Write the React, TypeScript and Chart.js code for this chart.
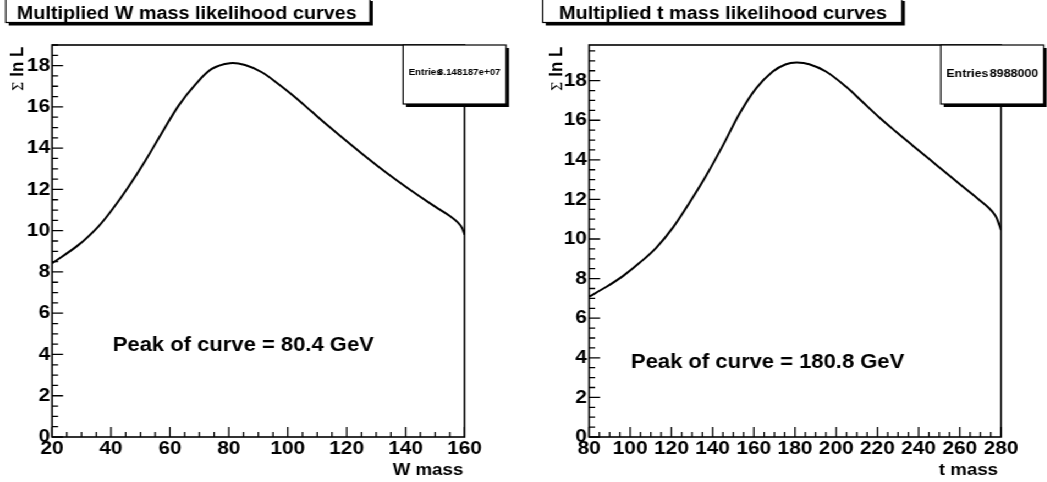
import React, { useEffect, useRef } from "react";
import { Chart, registerables } from "chart.js";

Chart.register(...registerables);

// ---------- data ----------
const wMass = [20, 28.9, 35.7, 40.3, 45.9, 51.6, 57.2, 62.9, 68.6, 74.2, 80.4, 85.5, 91.2, 96.8, 102.5, 108.2, 113.8, 119.5, 125.1, 130.8, 136.5, 142.1, 147.8, 151.5, 154.9, 157.7, 159.2, 160];
const wLnL = [8.42, 9.3, 10.2, 11.0, 12.12, 13.38, 14.72, 16.05, 17.08, 17.84, 18.12, 18.03, 17.68, 17.11, 16.47, 15.76, 15.07, 14.39, 13.74, 13.1, 12.49, 11.92, 11.37, 11.03, 10.72, 10.4, 10.12, 9.8];

const tMass = [80, 88.5, 96.6, 104.7, 112.7, 120.8, 128.9, 136.9, 145.0, 153.1, 161.1, 169.2, 175.6, 180.8, 186.9, 195.0, 204.7, 212.7, 220.8, 228.9, 236.9, 245.0, 253.1, 261.1, 269.2, 274.0, 277.3, 279.2, 280];
const tLnL = [7.09, 7.59, 8.14, 8.81, 9.57, 10.59, 11.86, 13.21, 14.73, 16.34, 17.61, 18.46, 18.83, 18.91, 18.83, 18.46, 17.7, 16.93, 16.15, 15.43, 14.74, 14.05, 13.36, 12.68, 12.0, 11.58, 11.18, 10.7, 10.45];

const wXTicks = [20, 40, 60, 80, 100, 120, 140, 160];
const tXTicks = [80, 100, 120, 140, 160, 180, 200, 220, 240, 260, 280];
const yTicks = [0, 2, 4, 6, 8, 10, 12, 14, 16, 18];

// ---------- layout ----------
const SX = 1.1; // horizontal stretch of the picture
const PANEL_W = 476;
const H = 482;
const FONT = '"Liberation Sans", Arial, Helvetica, sans-serif';

interface PanelCfg {
  xs: number[];
  ys: number[];
  xTicks: number[];
  xMin: number;
  xMax: number;
  yMax: number;
  title: string;
  xTitle: string;
  entries: string;
  peak: string;
  padL: number;
  padR: number;
  titleBoxX: number;
  titleTextX: number;
  titlePadR: number;
  statsX0: number;
  statsFont: number;
  statsBase: number;
  yLabX: number;
  peakX: number;
  peakY: number;
  xTitleRight: number;
}

const leftCfg: PanelCfg = {
  xs: wMass,
  ys: wLnL,
  xTicks: wXTicks,
  xMin: 20,
  xMax: 160,
  yMax: 19,
  title: "Multiplied W mass likelihood curves",
  xTitle: "W mass",
  entries: "8.148187e+07",
  peak: "Peak of curve = 80.4 GeV",
  padL: 7.3,
  padR: 53.7,
  titleBoxX: 5.2,
  titleTextX: 15.2,
  titlePadR: 12,
  statsX0: 366.4,
  statsFont: 8.9,
  statsBase: 75,
  yLabX: 21,
  peakX: 102.5,
  peakY: 351,
  xTitleRight: 421.2,
};

const rightCfg: PanelCfg = {
  xs: tMass,
  ys: tLnL,
  xTicks: tXTicks,
  xMin: 80,
  xMax: 280,
  yMax: 19.8,
  title: "Multiplied t mass likelihood curves",
  xTitle: "t mass",
  entries: "8988000",
  peak: "Peak of curve = 180.8 GeV",
  padL: 19.45,
  padR: 42,
  titleBoxX: 17.4,
  titleTextX: 32.2,
  titlePadR: 13.6,
  statsX0: 379.2,
  statsFont: 11.3,
  statsBase: 77,
  yLabX: 35,
  peakX: 97.6,
  peakY: 368,
  xTitleRight: 431.3,
};

function boxWithShadow(ctx: CanvasRenderingContext2D, x0: number, y0: number, x1: number, y1: number) {
  ctx.fillStyle = "#000";
  ctx.fillRect(x0 + 2.7, y0 + 3, x1 - x0, y1 - y0);
  ctx.fillStyle = "#fff";
  ctx.fillRect(x0, y0, x1 - x0, y1 - y0);
  ctx.lineWidth = 1.2;
  ctx.strokeStyle = "#000";
  ctx.strokeRect(x0, y0, x1 - x0, y1 - y0);
}

const rootPlugin = {
  id: "rootDecor",
  afterDraw(chart: any, _args: any, o: any) {
    const ctx = chart.ctx as CanvasRenderingContext2D;
    const a = chart.chartArea;
    const xs = chart.scales.x;
    const ys = chart.scales.y;
    ctx.save();
    ctx.strokeStyle = "#000";
    ctx.fillStyle = "#000";

    // tick marks inside the frame
    ctx.lineWidth = 1.3;
    ctx.beginPath();
    const xt: number[] = xs.ticks.map((t: any) => t.value);
    const xStep = xt[1] - xt[0];
    for (let v = xs.min; v <= xs.max + 1e-6; v += xStep / 4) {
      const px = xs.getPixelForValue(v);
      const major = xt.some((t) => Math.abs(t - v) < 1e-6);
      ctx.moveTo(px, a.bottom);
      ctx.lineTo(px, a.bottom - (major ? 10 : 5));
    }
    const yt: number[] = ys.ticks.map((t: any) => t.value);
    const yStep = yt[1] - yt[0];
    for (let v = ys.min; v <= ys.max + 1e-6; v += yStep / 4) {
      const py = ys.getPixelForValue(v);
      const major = yt.some((t) => Math.abs(t - v) < 1e-6);
      ctx.moveTo(a.left, py);
      ctx.lineTo(a.left + (major ? 10 : 5.5), py);
    }
    ctx.stroke();

    // frame
    ctx.lineWidth = 1.6;
    ctx.strokeRect(a.left, a.top, a.right - a.left, a.bottom - a.top);

    // title box
    ctx.font = `bold 18px ${FONT}`;
    const tw = ctx.measureText(o.title).width;
    boxWithShadow(ctx, o.titleBoxX, -2, o.titleTextX + tw + o.titlePadR, 22.5);
    ctx.fillStyle = "#000";
    ctx.textAlign = "left";
    ctx.textBaseline = "alphabetic";
    ctx.fillText(o.title, o.titleTextX, 18.7);

    // stats box
    const sx0 = o.statsX0;
    const sx1 = sx0 + 93.6;
    boxWithShadow(ctx, sx0, a.top, sx1, 104);
    ctx.fillStyle = "#000";
    ctx.font = `bold ${o.statsFont}px ${FONT}`;
    ctx.textAlign = "left";
    ctx.fillText("Entries", sx0 + 5, o.statsBase);
    ctx.textAlign = "right";
    ctx.fillText(o.entries, sx1 - 5, o.statsBase);

    // peak annotation
    ctx.font = `bold 20px ${FONT}`;
    ctx.textAlign = "left";
    ctx.fillText(o.peak, o.peakX, o.peakY);

    // x axis title
    ctx.font = `bold 17px ${FONT}`;
    ctx.textAlign = "right";
    ctx.fillText(o.xTitle, o.xTitleRight, 475);

    // y axis title (rotated)
    ctx.save();
    ctx.translate(o.yLabX, a.top + 1.5);
    ctx.rotate(-Math.PI / 2);
    ctx.font = `bold 17px ${FONT}`;
    const w2 = ctx.measureText("ln L").width;
    ctx.font = `13px "DejaVu Serif", "Liberation Serif", serif`;
    const w1 = ctx.measureText("\u03A3").width;
    const gap = 5;
    const total = w1 + gap + w2;
    ctx.textAlign = "left";
    ctx.fillText("\u03A3", -total, -0.5);
    ctx.font = `bold 17px ${FONT}`;
    ctx.fillText("ln L", -w2, 0);
    ctx.restore();

    ctx.restore();
  },
};

function Panel({ cfg, left }: { cfg: PanelCfg; left: number }) {
  const ref = useRef<HTMLCanvasElement>(null);
  useEffect(() => {
    const canvas = ref.current;
    if (!canvas) return;
    const tickFont = { family: FONT, size: 19, weight: "bold" as const };
    const chart = new Chart(canvas, {
      type: "line",
      data: {
        datasets: [
          {
            data: cfg.xs.map((x, i) => ({ x, y: cfg.ys[i] })),
            borderColor: "#000",
            borderWidth: 2,
            pointRadius: 0,
            fill: false,
            tension: 0.35,
          },
        ],
      },
      options: {
        responsive: false,
        animation: false,
        devicePixelRatio: 1,
        events: [],
        layout: { padding: { left: cfg.padL, right: cfg.padR, top: 45, bottom: 15 } },
        plugins: {
          legend: { display: false },
          tooltip: { enabled: false },
          title: { display: false },
          rootDecor: cfg as any,
        } as any,
        scales: {
          x: {
            type: "linear",
            min: cfg.xMin,
            max: cfg.xMax,
            afterBuildTicks: (s: any) => {
              s.ticks = cfg.xTicks.map((v) => ({ value: v }));
            },
            afterFit: (s: any) => {
              s.height = 30;
            },
            ticks: {
              font: tickFont,
              color: "#000",
              padding: 0,
              maxRotation: 0,
              autoSkip: false,
            },
            grid: { display: false, drawTicks: false },
            border: { display: false },
          },
          y: {
            type: "linear",
            min: 0,
            max: cfg.yMax,
            afterBuildTicks: (s: any) => {
              s.ticks = yTicks.map((v) => ({ value: v }));
            },
            afterFit: (s: any) => {
              s.width = 40;
            },
            ticks: {
              font: tickFont,
              color: "#000",
              padding: 1.8,
              autoSkip: false,
            },
            grid: { display: false, drawTicks: false },
            border: { display: false },
          },
        },
      },
      plugins: [rootPlugin],
    });
    return () => chart.destroy();
  }, [cfg]);
  return (
    <canvas
      ref={ref}
      width={PANEL_W}
      height={H}
      style={{ position: "absolute", left, top: 0, width: PANEL_W, height: H }}
    />
  );
}

export default function App() {
  return (
    <div
      style={{
        position: "fixed",
        left: 0,
        top: 0,
        width: 1047,
        height: H,
        background: "#fff",
        overflow: "hidden",
      }}
    >
      <div
        style={{
          position: "absolute",
          left: 0,
          top: 0,
          width: PANEL_W * 2,
          height: H,
          transform: `scaleX(${SX})`,
          transformOrigin: "0 0",
        }}
      >
        <Panel cfg={leftCfg} left={0} />
        <Panel cfg={rightCfg} left={PANEL_W} />
      </div>
    </div>
  );
}
